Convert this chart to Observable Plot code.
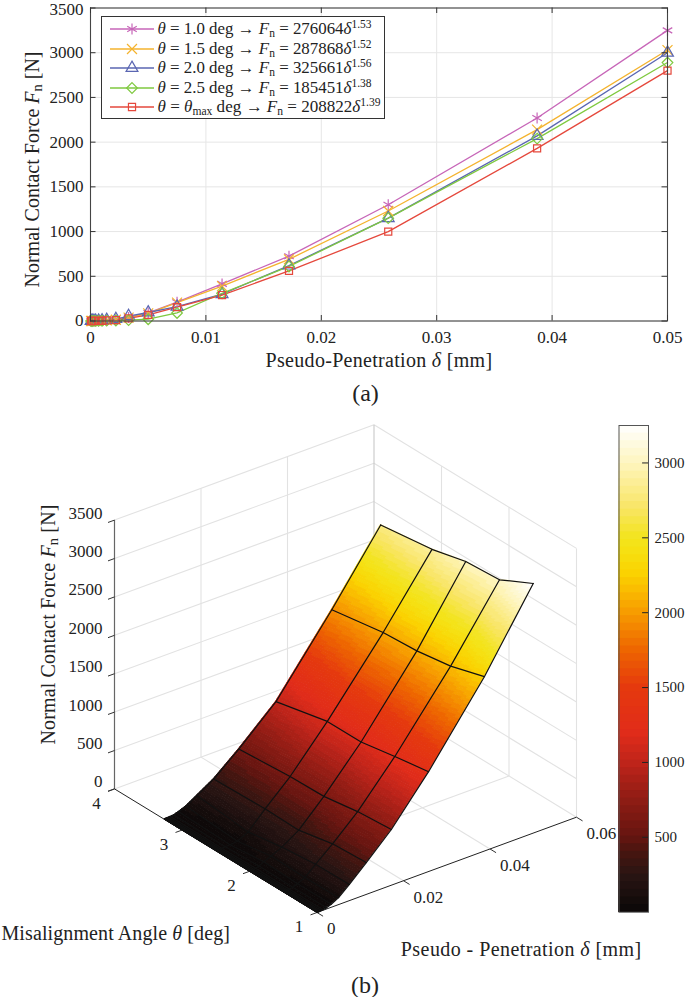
<!DOCTYPE html>
<html>
<head>
<meta charset="utf-8">
<script src="https://cdn.jsdelivr.net/npm/d3@7"></script>
<script src="https://cdn.jsdelivr.net/npm/@observablehq/plot@0.6"></script>
<style>
html,body{margin:0;padding:0;background:#fff;}
#page{position:relative;width:685px;height:997px;overflow:hidden;font-family:"Liberation Serif",serif;color:#222;}
#row{display:flex;}
svg{display:block;}
.cap{position:absolute;font-size:24px;transform:translate(-50%,-50%);white-space:nowrap;}
#legend{position:absolute;left:100.5px;top:16px;width:284px;height:103px;box-sizing:border-box;border:1px solid #333;background:#fff;font-size:16.8px;}
#legend .r{position:absolute;left:8px;height:20px;display:flex;align-items:center;white-space:nowrap;}
#legend svg{margin-right:4px;flex:none;}
#legend sup{font-size:.68em;line-height:0;vertical-align:.5em;}
#legend sub{font-size:.68em;line-height:0;vertical-align:-.25em;}
</style>
</head>
<body>
<div id="page"></div>
<script>
const FONT = '"Liberation Serif",serif';
const INK = "#222";

// ---------- data ----------
const delta = [0.00005,0.00015,0.0003,0.00045,0.0007,0.001,0.0014,0.0022,0.0033,0.005,0.0075,0.0114,0.0172,0.0258,0.0387,0.05];
const thetaValues = [1, 1.5, 2, 2.5, 3.26];
const forceTheta10 = [0,1,1,2,3,5,8,15,40,90,210,415,725,1300,2270,3250];
const forceTheta15 = [0,0,1,2,3,4,7,14,38,85,205,390,690,1230,2140,3030];
const forceTheta20 = [0,1,1,2,3,6,12,22,55,95,160,300,620,1150,2070,3000];
const forceTheta25 = [0,0,1,1,2,3,4,6,10,20,90,310,610,1150,2040,2890];
const forceThetaMax = [0,0,1,1,2,3,6,10,30,68,155,290,560,1000,1930,2800];
const forceRows = [forceTheta10, forceTheta15, forceTheta20, forceTheta25, forceThetaMax];

const seriesColors = ["#c766b8","#f4b32e","#5a66b2","#7fc93f","#e5483c"];
const seriesSymbols = ["asterisk","times","triangle","diamond2","square"];
const seriesR = [5.2,4.6,4.4,4.8,4];
const legendNames = ["1.0","1.5","2.0","2.5","max"];
const legendCoef = [276064,287868,325661,185451,208822];
const legendExp = ["1.53","1.52","1.56","1.38","1.39"];
const legendTextWidth = [214,214,214,214,223];

const xTicks2d = [0,0.01,0.02,0.03,0.04,0.05];
const yTicks2d = [0,500,1000,1500,2000,2500,3000,3500];
const thetaTicks = [1,2,3,4];
const deltaTicks3d = [0,0.02,0.04,0.06];
const zTicks = [0,500,1000,1500,2000,2500,3000,3500];
const barTicks = [500,1000,1500,2000,2500,3000];

// colormap anchor values
const cmapValues = [0,250,400,500,750,1000,1200,1500,1750,2000,2250,2400,2500,2700,2900,3000,3250];
const cmapColors = ["#0b0808","#2a1513","#481510","#651510","#8f1c14","#c0241a","#e12c1a","#e5390e","#ee6600","#f79c00","#fbd100","#f6e010","#f3e41e","#f9e566","#fdf0a0","#fef5c0","#ffffff"];
const fMax = 3250, levels = 64;

// ---------- colour scale (64 level map, as the figure) ----------
const cmap = d3.scaleLinear().domain(cmapValues).range(cmapColors).interpolate(d3.interpolateRgb);
const thresholds = d3.range(1, levels).map(i => i * fMax / levels);
const bandColors = d3.range(levels).map(i => cmap((i + .5) * fMax / levels));
const colorScale = {type:"threshold", domain:thresholds, range:bandColors};

// ---------- helpers ----------
const labelSpacing = {"Pseudo-P":0.3,"Misal":0.1,"Pseudo -":0.43,"Normal":0};
function richText(svg, spacingOverride){
  svg.querySelectorAll("text").forEach(t=>{
    const s=t.textContent;
    if(!/[*_]/.test(s)) return;
    t.textContent="";
    t.setAttribute("font-size",20);
    t.style.fontSize="20px";
    const sp0 = {...labelSpacing,...(spacingOverride||{})};
    for(const k in sp0) if(s.startsWith(k)) t.setAttribute("letter-spacing",sp0[k]);
    let shift=0;
    s.split(/(\*[^*]+\*|_[^_]+_)/).filter(Boolean).forEach(seg=>{
      const sp=document.createElementNS("http://www.w3.org/2000/svg","tspan");
      if(seg[0]==="*"){sp.textContent=seg.slice(1,-1);sp.setAttribute("font-style","italic");}
      else if(seg[0]==="_"){sp.textContent=seg.slice(1,-1);sp.setAttribute("font-size","72%");sp.setAttribute("dy",3.5);shift=-3.5;t.appendChild(sp);return;}
      else sp.textContent=seg;
      if(shift){sp.setAttribute("dy",shift);shift=0;}
      t.appendChild(sp);
    });
  });
  return svg;
}
const baseStyle = {fontFamily:FONT,fontSize:"17px",color:INK,background:"transparent",overflow:"visible"};

// ---------- (a) line chart ----------
const table2d = forceRows.flatMap((row,s)=>row.map((F,i)=>({s,delta:delta[i],F})));
const tx = 0.05*5.5/577, ty = 3500*5.5/313;
const chartA = Plot.plot({
  width:685,height:410,marginLeft:90,marginRight:18,marginTop:7.5,marginBottom:89.5,
  style:baseStyle,
  x:{domain:[0,0.05],axis:null},y:{domain:[0,3500],axis:null},
  marks:[
    Plot.gridX(xTicks2d,{stroke:"#e6e6e6",strokeOpacity:1}),
    Plot.gridY(yTicks2d,{stroke:"#e6e6e6",strokeOpacity:1}),
    ...seriesColors.map((c,s)=>Plot.line(table2d.filter(d=>d.s===s),{x:"delta",y:"F",stroke:c,strokeWidth:1.3,curve:"linear"})),
    ...seriesColors.map((c,s)=>Plot.dot(table2d.filter(d=>d.s===s),{x:"delta",y:"F",stroke:c,symbol:seriesSymbols[s],r:seriesR[s],strokeWidth:1.2,fill:"none"})),
    Plot.frame({stroke:"#444",strokeWidth:1.1}),
    Plot.ruleX(xTicks2d,{x:d=>d,y1:0,y2:ty,stroke:"#333"}),
    Plot.ruleX(xTicks2d,{x:d=>d,y1:3500,y2:3500-ty,stroke:"#333"}),
    Plot.ruleY(yTicks2d,{y:d=>d,x1:0,x2:tx,stroke:"#333"}),
    Plot.ruleY(yTicks2d,{y:d=>d,x1:0.05,x2:0.05-tx,stroke:"#333"}),
    Plot.axisX(xTicks2d,{tickSize:0,tickPadding:10,tickFormat:d=>String(d),label:"Pseudo-Penetration *δ* [mm]",labelAnchor:"center",labelArrow:"none",labelOffset:46}),
    Plot.axisY(yTicks2d,{tickSize:0,tickPadding:7,tickFormat:d=>String(d),label:"Normal Contact Force *F*_n_ [N]",labelAnchor:"center",labelArrow:"none",labelOffset:66})
  ]
});
richText(chartA);
chartA.querySelectorAll("text").forEach(t=>{
  // the topmost tick label sits at the page edge: keep it inside the picture
  if(t.textContent==="3500") t.setAttribute("dy","0.12em");
  // the rotated axis title sits slightly below the centre of the frame
  if(t.textContent.startsWith("Normal")) t.setAttribute("transform",(t.getAttribute("transform")||"")+" translate(-5,0)");
});

// ---------- (b) projected surface ----------
const H3 = 587, W3 = 617, offsetY = 410;
function project(theta, d, z){
  return {
    x: 316.5 - 67.5*(theta-1) + 259.5*(d/0.06),
    y: 912 - offsetY - 41.2*(theta-1) - 95.3*(d/0.06) - 0.0768*z
  };
}
function seg(a,b){const p=project(...a),q=project(...b);return {x1:p.x,y1:p.y,x2:q.x,y2:q.y};}

const gridLines = [
  ...zTicks.flatMap(z=>[seg([4,0,z],[4,0.06,z]),seg([4,0.06,z],[1,0.06,z])]),
  ...[0.02,0.04].flatMap(d=>[seg([4,d,0],[4,d,3500]),seg([4,d,0],[1,d,0])]),
  ...[1,2,3].map(t=>seg([t,0.06,0],[t,0.06,3500])),
  ...[2,3].map(t=>seg([t,0,0],[t,0.06,0]))
];
const cornerLine = [seg([4,0.06,0],[4,0.06,3500])];
const axisLines = [seg([4,0,0],[1,0,0]),seg([1,0,0],[1,0.06,0])];
const zAxisLine = [seg([4,0,0],[4,0,3500])];
const tickLines = [
  ...thetaTicks.map(t=>seg([t,0,0],[t,-0.0015,0])),
  ...deltaTicks3d.map(d=>seg([1,d,0],[0.91,d,0])),
  ...zTicks.map(z=>seg([4,0,z],[4,-0.0015,z]))
];

// surface cells: shaded by bilinear shading inside each measured mesh cell
const surf = [];
let cid = 0;
for(let j=delta.length-2;j>=0;j--){
  for(let i=thetaValues.length-2;i>=0;i--){
    const f00=forceRows[i][j],f10=forceRows[i+1][j],f01=forceRows[i][j+1],f11=forceRows[i+1][j+1];
    const nd=Math.max(2,Math.min(40,Math.ceil(Math.max(Math.abs(f01-f00),Math.abs(f11-f10))/20)));
    const nt=8;
    const P=(u,v)=>{
      const th=thetaValues[i]+(thetaValues[i+1]-thetaValues[i])*u;
      const d=delta[j]+(delta[j+1]-delta[j])*v;
      const F=(f00*(1-u)+f10*u)*(1-v)+(f01*(1-u)+f11*u)*v;
      return {...project(th,d,F),F};
    };
    for(let a=nd-1;a>=0;a--) for(let b=nt-1;b>=0;b--){
      const p00=P(b/nt,a/nd),p10=P((b+1)/nt,a/nd),p01=P(b/nt,(a+1)/nd),p11=P((b+1)/nt,(a+1)/nd);
      const F=(p00.F+p10.F+p01.F+p11.F)/4;
      cid++;
      surf.push({id:cid,x1:p00.x,y1:p00.y,x2:p10.x,y2:p10.y,F});
      surf.push({id:cid,x1:p01.x,y1:p01.y,x2:p11.x,y2:p11.y,F});
    }
  }
}
// mesh lines
const mesh = [];
thetaValues.forEach((t,i)=>delta.forEach((d,j)=>mesh.push({k:"t"+i,...project(t,d,forceRows[i][j])})));
delta.forEach((d,j)=>thetaValues.forEach((t,i)=>mesh.push({k:"d"+j,...project(t,d,forceRows[i][j])})));

const lab = (arr,fn,opts)=>Plot.text(arr.map(v=>({v,...fn(v)})),{x:"x",y:"y",text:d=>String(d.v),...opts});

const chartB = Plot.plot({
  width:W3,height:H3,marginLeft:0,marginRight:0,marginTop:0,marginBottom:0,
  style:baseStyle,
  x:{domain:[0,W3],range:[0,W3],axis:null},
  y:{domain:[0,H3],range:[0,H3],axis:null},
  color:colorScale,
  marks:[
    Plot.link(gridLines,{x1:"x1",y1:"y1",x2:"x2",y2:"y2",stroke:"#e2e2e2",strokeWidth:1.1}),
    Plot.link(cornerLine,{x1:"x1",y1:"y1",x2:"x2",y2:"y2",stroke:"#c8c8c8",strokeWidth:1.1}),
    Plot.link(zAxisLine,{x1:"x1",y1:"y1",x2:"x2",y2:"y2",stroke:"#666",strokeWidth:1.2}),
    Plot.link(axisLines,{x1:"x1",y1:"y1",x2:"x2",y2:"y2",stroke:"#222",strokeWidth:1}),
    Plot.link(tickLines,{x1:"x1",y1:"y1",x2:"x2",y2:"y2",stroke:"#333",strokeWidth:1}),
    Plot.area(surf,{x1:"x1",y1:"y1",x2:"x2",y2:"y2",z:"id",fill:"F",stroke:"F",strokeWidth:1}),
    Plot.line(mesh,{x:"x",y:"y",z:"k",stroke:"#111",strokeWidth:1.2,curve:"linear"}),
    lab(thetaTicks,t=>project(t,0,0),{dx:-18,dy:14.5,textAnchor:"middle"}),
    lab(deltaTicks3d,d=>project(1,d,0),{dx:10,dy:16.5,textAnchor:"start"}),
    lab(zTicks,z=>project(4,0,z),{dx:-12,dy:-7,textAnchor:"end"}),
    Plot.text([project(2.5,0,0)],{x:"x",y:"y",text:()=>"Misalignment Angle *θ* [deg]",dx:-100,dy:83}),
    Plot.text([project(1,0.03,0)],{x:"x",y:"y",text:()=>"Pseudo - Penetration *δ* [mm]",dx:74.5,dy:84.5}),
    Plot.text([project(4,0,1750)],{x:"x",y:"y",text:()=>"Normal Contact Force *F*_n_ [N]",dx:-66,dy:-30,rotate:-90})
  ]
});
richText(chartB,{"Normal":0.15});

// ---------- colour bar ----------
const bandEdge = d3.range(levels).map(i=>({v1:0,v2:(i+1)*fMax/levels,F:(i+.5)*fMax/levels})).reverse();
const chartBar = Plot.plot({
  width:68,height:H3,marginLeft:1.5,marginRight:37,marginTop:15,marginBottom:85.3,
  style:baseStyle,
  x:{domain:[0,1],axis:null},
  y:{domain:[0,fMax],axis:null},
  color:colorScale,
  marks:[
    Plot.rect(bandEdge,{x1:0,x2:1,y1:"v1",y2:"v2",fill:"F"}),
    Plot.frame({stroke:"#555",strokeWidth:1}),
    Plot.ruleY(barTicks,{y:d=>d,x1:0.8,x2:1,stroke:"#222"}),
    Plot.axisY(barTicks,{anchor:"right",tickSize:0,tickPadding:6,tickFormat:d=>String(d),label:null,fontSize:15})
  ]
});

// ---------- page assembly ----------
const page = document.getElementById("page");
page.appendChild(chartA);
const row = document.createElement("div"); row.id="row";
row.appendChild(chartB); row.appendChild(chartBar);
page.appendChild(row);

// legend
const legend = document.createElement("div"); legend.id="legend";
page.appendChild(legend);
legendNames.forEach((n,s)=>{
  const r=document.createElement("div"); r.className="r";
  r.style.top=(2+s*19.5)+"px";
  const lhs = n==="max" ? "<i>θ</i><sub>max</sub> deg" : n+" deg";
  const sym = {asterisk:d3.symbolAsterisk,times:d3.symbolTimes,triangle:d3.symbolTriangle,diamond2:d3.symbolDiamond2,square:d3.symbolSquare}[seriesSymbols[s]];
  const rr = seriesR[s];
  const path = d3.symbol(sym, Math.PI*rr*rr)();
  r.innerHTML = `<svg width="44" height="16" style="overflow:visible"><line x1="0" x2="44" y1="8" y2="8" stroke="${seriesColors[s]}" stroke-width="1.3"/><path transform="translate(22,8)" d="${path}" fill="none" stroke="${seriesColors[s]}" stroke-width="1.2"/></svg><span><i>θ</i> = ${lhs} → <i>F</i><sub>n</sub> = ${legendCoef[s]}<i>δ</i><sup>${legendExp[s]}</sup></span>`;
  legend.appendChild(r);
  // fit the row's text to the width it has in the figure
  const span=r.querySelector("span");
  span.style.fontSize=(16.8*legendTextWidth[s]/span.getBoundingClientRect().width)+"px";
});

// sub-figure captions
[["(a)",365.5,393],["(b)",365,985]].forEach(([t,x,y])=>{
  const c=document.createElement("div");c.className="cap";c.textContent=t;c.style.left=x+"px";c.style.top=y+"px";page.appendChild(c);
});
</script>
</body>
</html>
